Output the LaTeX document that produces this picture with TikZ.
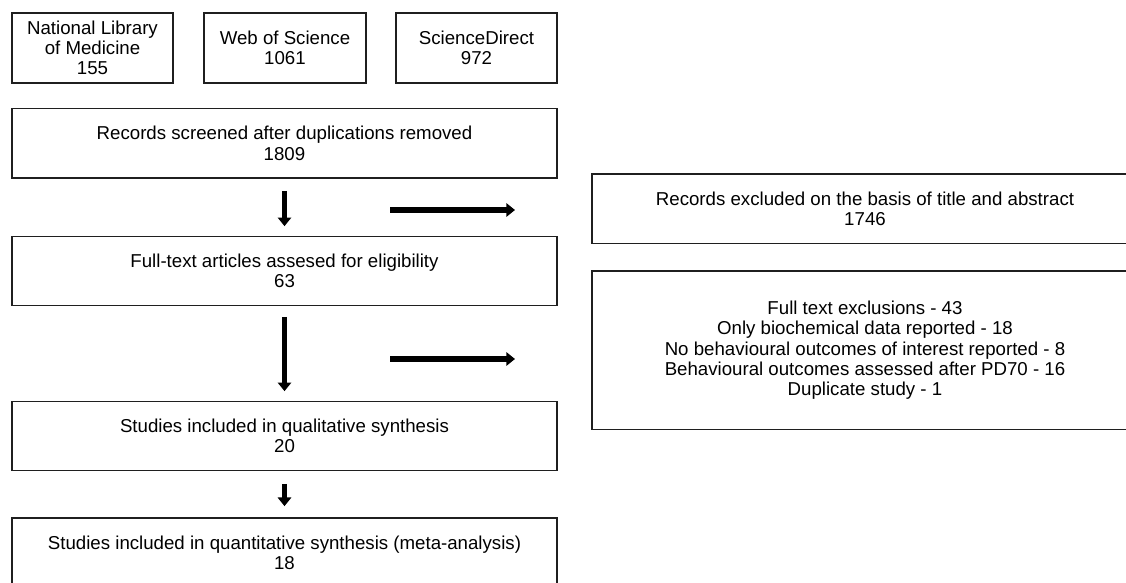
\documentclass[tikz,border=0pt]{standalone}
\usepackage{fontspec}
\setmainfont{Liberation Sans}
\usetikzlibrary{arrows.meta}
\tikzset{
  box/.style={draw=black!88, line width=1.3pt, inner sep=0pt, align=center,
    font=\fontsize{14}{15.2}\selectfont},
  srcbox/.style={box, minimum width=120.75pt, minimum height=52.5pt},
  widebox/.style={box, minimum width=408.75pt, minimum height=51.75pt},
  exbox/.style={box, minimum width=409.5pt},
  arr/.style={line width=3.9pt, -{Triangle[width=10pt,length=6.5pt]}, black}
}
\begin{document}
\begin{tikzpicture}[x=0.75pt,y=-0.75pt]
\useasboundingbox (0,0) rectangle (1126,582);
\node[srcbox] (nlm) at (92.5,48) {National Library\\of Medicine\\155};
\node[srcbox, minimum width=121.5pt] (wos) at (285,48) {Web of Science\\1061};
\node[srcbox] (sd) at (476.5,48) {ScienceDirect\\972};
\node[widebox, minimum height=52.1pt] (scr) at (284.5,143.25) {Records screened after duplications removed\\1809};
\node[widebox] (full) at (284.5,271) {Full-text articles assesed for eligibility\\63};
\node[widebox] (qual) at (284.5,436) {Studies included in qualitative synthesis\\20};
\node[widebox] (quant) at (284.5,552.5) {Studies included in quantitative synthesis (meta-analysis)\\18};
\node[exbox, minimum height=52.1pt] (ex1) at (865,208.75) {Records excluded on the basis of title and abstract\\1746};
\node[exbox, minimum height=118.9pt] (ex2) at (865,350.25) {Full text exclusions - 43\\Only biochemical data reported - 18\\No behavioural outcomes of interest reported - 8\\Behavioural outcomes assessed after PD70 - 16\\Duplicate study - 1};
\draw[arr, shorten <=9pt, shorten >=7.1pt] (scr.south) -- (full.north);
\draw[arr, shorten <=7.9pt, shorten >=7.1pt] (full.south) -- (qual.north);
\draw[arr, shorten <=9.4pt, shorten >=8.25pt] (qual.south) -- (quant.north);
\coordinate (r1s) at (390,210);
\coordinate (r1e) at (515,210);
\coordinate (r2s) at (390,359);
\coordinate (r2e) at (515,359);
\draw[arr] (r1s) -- (r1e);
\draw[arr] (r2s) -- (r2e);
\end{tikzpicture}
\end{document}
